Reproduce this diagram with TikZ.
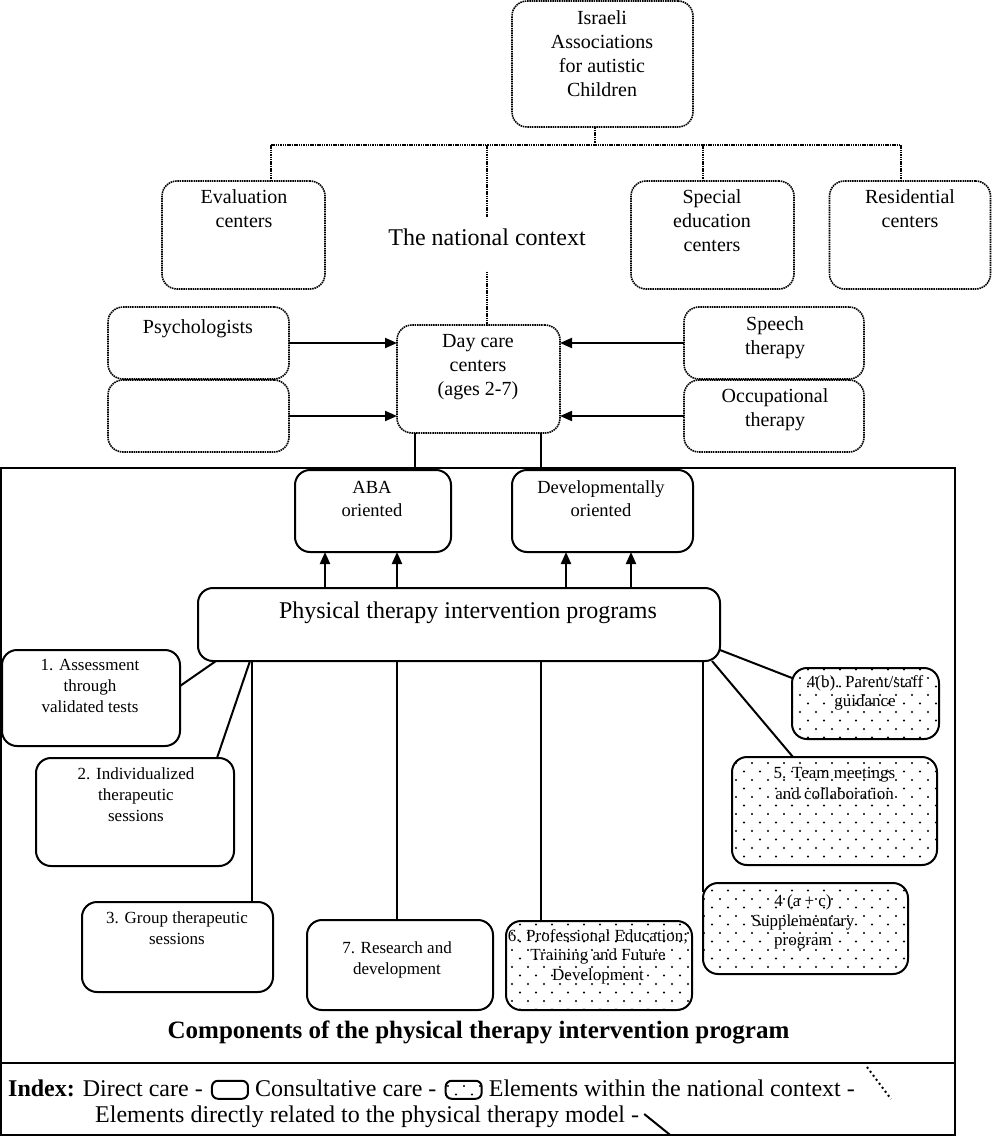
\documentclass[tikz,border=0pt]{standalone}
\usepackage{fontspec}
\setmainfont{Liberation Serif}
\usetikzlibrary{arrows.meta,patterns,calc,positioning}
\pgfdeclarepatternformonly{cdots}{\pgfpoint{-1.4pt}{-1.4pt}}{\pgfpoint{9.4pt}{9.9pt}}{\pgfpoint{16pt}{17pt}}{%
  \pgfpathcircle{\pgfpoint{0pt}{0pt}}{1.2pt}%
  \pgfpathcircle{\pgfpoint{8pt}{8.5pt}}{1.2pt}%
  \pgfusepath{fill}}
\begin{document}
\begin{tikzpicture}[x=1pt,y=-1pt,
  dotln/.style={line width=1.6pt, dash pattern=on 1.5pt off 0.8pt},
  sparsedot/.style={line width=2pt, dash pattern=on 2pt off 3pt},
  dotbox/.style={draw, dotln, rounded corners=15pt, inner sep=0pt, outer sep=0pt},
  solbox/.style={draw, line width=2pt, rounded corners=15pt, inner sep=0pt, outer sep=0pt},
  consbox/.style={solbox, pattern=cdots},
  sz/.style 2 args={minimum width=#1, minimum height=#2},
  conn/.style={line width=2pt},
  arr/.style={line width=2pt, -{Triangle[length=12pt,width=10pt]}},
  tbase/.style={align=center, inner sep=0pt, execute at begin node=\strut, execute at end node=\strut},
  tA/.style={tbase, font=\fontsize{20}{24}\selectfont},
  tB/.style={tbase, font=\fontsize{18.5}{23}\selectfont},
  tC/.style={tbase, font=\fontsize{17}{21}\selectfont},
  tD/.style={tbase, font=\fontsize{17}{19.5}\selectfont},
  tL/.style={tbase, font=\fontsize{24}{28.8}\selectfont},
  legbox/.style={draw, line width=2pt, rounded corners=6pt, sz={36}{18}, inner sep=0pt, anchor=south west}
]
\useasboundingbox (0,0) rectangle (992,1137);

% ---- national context (dotted) ----
\node[dotbox, sz={181}{126}] (isr) at (602.5,64) {};
\node[tA] (isrT) at (602,57) {Israeli\\Associations\\for autistic\\Children};
\node[dotbox, sz={163}{108}] (eval) at (243.5,235) {};
\node[tA] (evalT) at (244,212) {Evaluation\\centers};
\node[dotbox, sz={163}{108}] (spec) at (712.5,235) {};
\node[tA] (specT) at (712,224) {Special\\education\\centers};
\node[dotbox, sz={161}{108}] (resi) at (910,235) {};
\node[tA] (resiT) at (910,212) {Residential\\centers};
\node[tL, inner ysep=13pt] (nat) at (487,240) {The national context};

\node[dotbox, sz={181}{72}] (psy) at (198.5,343) {};
\node[tA] (psyT) at (198,329) {Psychologists};
\node[dotbox, sz={181}{72}] (emp) at (198.5,416) {};
\node[dotbox, sz={163}{108}] (day) at (478.5,379) {};
\node[tA] (dayT) at (478,369) {Day care\\centers\\(ages 2-7)};
\node[dotbox, sz={180}{72}] (spe) at (774,343) {};
\node[tA] (speT) at (775,339) {Speech\\therapy};
\node[dotbox, sz={180}{72}] (occ) at (774,416) {};
\node[tA] (occT) at (775,411) {Occupational\\therapy};

\coordinate (busL) at (271,145);
\coordinate (busR) at (901,145);
\coordinate (busI) at (595,145);
\coordinate (busN) at (487,145);
\coordinate (busS) at (703,145);
\draw[dotln] (busL) -- (busR);
\draw[dotln] (busI) -- (busI |- isr.south);
\draw[dotln] (busL) -- (busL |- eval.north);
\draw[dotln] (busS) -- (busS |- spec.north);
\draw[dotln] (busR) -- (busR |- resi.north);
\draw[dotln] (busN) -- ($(nat.north)+(0,4)$);
\draw[dotln] ($(nat.south)+(0,4)$) -- (nat.south |- day.north);

\draw[arr] (psy.east) -- (psy.east -| day.west);
\draw[arr] (emp.east) -- (emp.east -| day.west);
\draw[arr] (spe.west) -- (spe.west -| day.east);
\draw[arr] (occ.west) -- (occ.west -| day.east);

% ---- frame ----
\node[draw, line width=2pt, sz={954}{667}, inner sep=0pt, outer sep=0pt] (frame) at (478,801.5) {};
\draw[conn] ($(frame.south west)+(0,-72)$) -- ($(frame.south east)+(0,-72)$);

\coordinate (d1) at ($(day.south)+(-63.5,0)$);
\coordinate (d2) at ($(day.south)+(62.5,0)$);
\draw[conn] (d1) -- (d1 |- frame.north);
\draw[conn] (d2) -- (d2 |- frame.north);

\node[solbox, sz={156}{82}] (aba) at (373,511) {};
\node[tB] (abaT) at (372,502) {ABA\\oriented};
\node[solbox, sz={181}{82}] (dev) at (602.5,511) {};
\node[tB] (devT) at (601,502) {Developmentally\\oriented};

\node[solbox, sz={522}{73}] (pt) at (459,624.5) {};
\node[tL] (ptT) at (468,613) {Physical therapy intervention programs};

\coordinate (u1) at ($(aba.south)+(-48,0)$);
\coordinate (u2) at ($(aba.south)+(24,0)$);
\coordinate (u3) at ($(dev.south)+(-36.5,0)$);
\coordinate (u4) at ($(dev.south)+(28.5,0)$);
\foreach \u in {u1,u2,u3,u4} \draw[arr] (\u |- pt.north) -- (\u);

% ---- components ----
\node[solbox, sz={178}{96}] (c1) at (91,698) {};
\node[tC] (c1T) at (90,689) {1. Assessment\\through\\validated tests};
\node[solbox, sz={198}{108}] (c2) at (135,812) {};
\node[tC] (c2T) at (136,797.5) {2. Individualized\\therapeutic\\sessions};
\node[solbox, sz={191}{90}] (c3) at (177.5,947) {};
\node[tC] (c3T) at (177,931.5) {3. Group therapeutic\\sessions};
\node[solbox, sz={186}{90}] (c7) at (400,965) {};
\node[tC] (c7T) at (397,961.5) {7. Research and\\development};
\node[consbox, sz={186}{89}] (c6) at (599,965.5) {};
\node[tD] (c6T) at (598,957.5) {6. Professional Education;\\Training and Future\\Development};
\node[consbox, sz={205}{91}] (c4ac) at (805.5,928.5) {};
\node[tD] (c4acT) at (803,923.5) {4 (a + c)\\Supplementary\\program};
\node[consbox, sz={147}{71}] (c4b) at (865.5,703.5) {};
\node[tD] (c4bT) at (865,694) {4(b). Parent/staff\\guidance};
\node[consbox, sz={205}{108}] (c5) at (834.5,811) {};
\node[tC] (c5T) at (834.5,786.5) {5. Team meetings\\and collaboration};

\coordinate (p3) at ($(pt.south west)+(54,0)$);
\coordinate (p7) at ($(pt.south west)+(199,0)$);
\coordinate (p6) at ($(pt.south west)+(343,0)$);
\coordinate (p4) at ($(pt.south west)+(505,0)$);
\draw[conn] ($(pt.south west)+(18,0)$) -- ($(c1.north east)+(0,36)$);
\draw[conn] ($(pt.south west)+(52,0)$) -- ($(c2.north east)+(-17,0)$);
\draw[conn] (p3) -- (p3 |- c3.north);
\draw[conn] (p7) -- (p7 |- c7.north);
\draw[conn] (p6) -- (p6 |- c6.north);
\draw[conn] (p4) -- ($(p4 |- c4ac.north)+(0,9)$);
\draw[conn] ($(pt.south east)+(0,-11)$) -- ($(c4b.north west)+(0,10)$);
\draw[conn] ($(pt.south east)+(-8,0)$) -- ($(c5.north west)+(61,0)$);

\node[font=\fontsize{25}{30}\selectfont\bfseries, inner sep=0pt] (comp) at (478.5,1032) {Components of the physical therapy intervention program};

% ---- index ----
\node[tL, anchor=west] (ix1) at (8,1091) {\textbf{Index:} Direct care -};
\node[legbox] (lb1) at ($(ix1.base east)+(8,3)$) {};
\node[tL, anchor=base west] (ix2) at ($(ix1.base east)+(52,0)$) {Consultative care -};
\node[legbox, pattern=cdots] (lb2) at ($(ix2.base east)+(8,3)$) {};
\node[tL, anchor=base west] (ix3) at ($(ix2.base east)+(52,0)$) {Elements within the national context -};
\draw[sparsedot] ($(ix3.east)+(12,-24)$) -- ++(24,32);
\node[tL, anchor=west] (ix4) at (95,1117) {Elements directly related to the physical therapy model -};
\draw[conn] ($(ix4.east)+(5,-3)$) -- ++(26,21);
\end{tikzpicture}
\end{document}
